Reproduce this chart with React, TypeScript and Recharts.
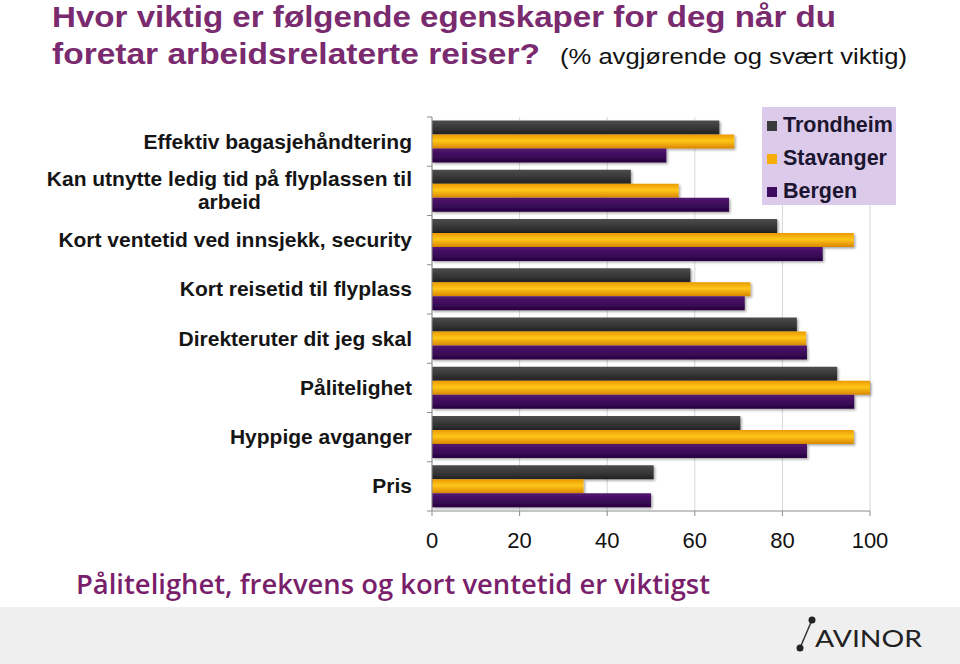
import React from "react";
import { BarChart, Bar, XAxis, YAxis, CartesianGrid } from "recharts";

const categories = [
  "Effektiv bagasjehåndtering",
  "Kan utnytte ledig tid på flyplassen til arbeid",
  "Kort ventetid ved innsjekk, security",
  "Kort reisetid til flyplass",
  "Direkteruter dit jeg skal",
  "Pålitelighet",
  "Hyppige avganger",
  "Pris",
];
const trondheim = [65.6, 45.4, 78.8, 59.0, 83.3, 92.5, 70.4, 50.6];
const stavanger = [69.0, 56.3, 96.3, 72.7, 85.4, 100, 96.3, 34.6];
const bergen = [53.5, 67.8, 89.2, 71.4, 85.6, 96.4, 85.6, 50.0];
const xTicks = [0, 20, 40, 60, 80, 100];
const seriesNames = ["Trondheim", "Stavanger", "Bergen"];

const titleLine1 = "Hvor viktig er følgende egenskaper for deg når du";
const titleLine2 = "foretar arbeidsrelaterte reiser?";
const titleNote = "(% avgjørende og svært viktig)";
const conclusion = "Pålitelighet, frekvens og kort ventetid er viktigst";
const logoText = "AVINOR";

const data = categories.map((name, i) => ({
  name,
  Trondheim: trondheim[i],
  Stavanger: stavanger[i],
  Bergen: bergen[i],
}));

const seriesStyle: Record<string, { id: string; stops: string[]; swatch: string }> = {
  Trondheim: { id: "gT", stops: ["#4d4d4d", "#3a3a3a", "#222222"], swatch: "#3a3a3a" },
  Stavanger: { id: "gS", stops: ["#eb9a00", "#ffc61a", "#d98600"], swatch: "#f7ad0a" },
  Bergen: { id: "gB", stops: ["#521770", "#3f0b5e", "#280340"], swatch: "#3f0b5e" },
};

const SANS = "'Liberation Sans', Arial, Helvetica, sans-serif";
const LABEL_SIZE = 21;
const LABEL_FONT = `bold ${LABEL_SIZE}px 'Liberation Sans', Arial, sans-serif`;

let ctx: CanvasRenderingContext2D | null = null;
function measure(text: string): number {
  if (!ctx) ctx = document.createElement("canvas").getContext("2d");
  if (!ctx) return text.length * 10;
  ctx.font = LABEL_FONT;
  return ctx.measureText(text).width;
}

function wrap(text: string, maxChars = 40): string[] {
  const words = text.split(" ");
  const lines: string[] = [];
  let cur = "";
  for (const w of words) {
    const next = cur ? cur + " " + w : w;
    if (next.length > maxChars && cur) {
      lines.push(cur);
      cur = w;
    } else cur = next;
  }
  if (cur) lines.push(cur);
  return lines;
}

const CHART_W = 960;
const CHART_H = 560;
const MARGIN = { top: 117, right: 90, bottom: 9, left: 12 };
const XAXIS_H = 40;
const Y_AXIS_W = 420;
const TICK_GAP = 20;
const plotH = CHART_H - MARGIN.top - MARGIN.bottom - XAXIS_H;
const halfBand = plotH / categories.length / 2;

function YTick(props: any) {
  const { x, y, payload, index } = props;
  const lines = wrap(String(payload.value));
  const lineH = 23;
  const axisX = x + TICK_GAP;
  const first = y - ((lines.length - 1) * lineH) / 2 + 7;
  const widest = Math.max(...lines.map(measure));
  const multi = lines.length > 1;
  return (
    <g>
      <line x1={axisX - 5} x2={axisX} y1={y - halfBand} y2={y - halfBand} stroke="#8c8c8c" />
      {index === categories.length - 1 && (
        <line x1={axisX - 5} x2={axisX} y1={y + halfBand} y2={y + halfBand} stroke="#8c8c8c" />
      )}
      <text
        fontFamily={SANS}
        fontWeight="bold"
        fontSize={LABEL_SIZE}
        fill="#151515"
        textAnchor={multi ? "middle" : "end"}
      >
        {lines.map((l, i) => (
          <tspan key={i} x={multi ? x - widest / 2 : x} y={first + i * lineH}>
            {l}
          </tspan>
        ))}
      </text>
    </g>
  );
}

function makeShape(name: string) {
  return (p: any) => {
    const { x, y, width, height } = p;
    if (width <= 0) return <g />;
    return (
      <rect
        x={x}
        y={y}
        width={width}
        height={height}
        fill={`url(#${seriesStyle[name].id})`}
        filter="url(#barShadow)"
      />
    );
  };
}

export default function App() {
  return (
    <div
      style={{
        position: "absolute",
        left: 0,
        top: 0,
        width: 960,
        height: 664,
        background: "#ffffff",
        overflow: "hidden",
      }}
    >
      <svg width={960} height={110} style={{ position: "absolute", left: 0, top: 0 }}>
        <text
          x={52}
          y={27}
          fontFamily={SANS}
          fontWeight="bold"
          fontSize={30}
          fill="#7a2a6e"
          textLength={784}
          lengthAdjust="spacingAndGlyphs"
        >
          {titleLine1}
        </text>
        <text
          x={52}
          y={64}
          fontFamily={SANS}
          fontWeight="bold"
          fontSize={30}
          fill="#7a2a6e"
          textLength={488}
          lengthAdjust="spacingAndGlyphs"
        >
          {titleLine2}
        </text>
        <text
          x={560}
          y={64}
          fontFamily={SANS}
          fontSize={22}
          fill="#111111"
          textLength={347}
          lengthAdjust="spacingAndGlyphs"
        >
          {titleNote}
        </text>
      </svg>

      <div style={{ position: "absolute", left: 0, top: 0 }}>
        <BarChart
          width={CHART_W}
          height={CHART_H}
          data={data}
          layout="vertical"
          margin={MARGIN}
          barCategoryGap={3.5}
          barGap={0}
        >
          <defs>
            {seriesNames.map((n) => (
              <linearGradient key={n} id={seriesStyle[n].id} x1="0" y1="0" x2="0" y2="1">
                <stop offset="0%" stopColor={seriesStyle[n].stops[0]} />
                <stop offset="45%" stopColor={seriesStyle[n].stops[1]} />
                <stop offset="100%" stopColor={seriesStyle[n].stops[2]} />
              </linearGradient>
            ))}
            <filter id="barShadow" x="-5%" y="-30%" width="115%" height="170%">
              <feDropShadow dx="1.5" dy="1.5" stdDeviation="1" floodColor="#000" floodOpacity="0.35" />
            </filter>
          </defs>
          <CartesianGrid horizontal={false} stroke="#d6d6d6" />
          <XAxis
            type="number"
            domain={[0, 100]}
            ticks={xTicks}
            height={XAXIS_H}
            tickSize={5}
            tickMargin={16}
            stroke="#8c8c8c"
            tick={{ fontSize: 22, fill: "#111111", fontFamily: SANS }}
            interval={0}
          />
          <YAxis
            type="category"
            dataKey="name"
            width={Y_AXIS_W}
            tickLine={false}
            tickSize={0}
            tickMargin={TICK_GAP}
            stroke="#8c8c8c"
            interval={0}
            tick={<YTick />}
          />
          {seriesNames.map((n) => (
            <Bar
              key={n}
              dataKey={n}
              isAnimationActive={false}
              fill={seriesStyle[n].swatch}
              shape={makeShape(n)}
            />
          ))}
        </BarChart>
      </div>

      <div
        style={{
          position: "absolute",
          left: 762,
          top: 107,
          width: 134,
          height: 98,
          background: "#dccaea",
          boxSizing: "border-box",
          paddingTop: 2,
          paddingLeft: 5,
        }}
      >
        {seriesNames.map((n) => (
          <div
            key={n}
            style={{
              display: "flex",
              alignItems: "center",
              height: 33,
              fontFamily: SANS,
              fontWeight: "bold",
              fontSize: 21.5,
              color: "#1b1530",
              lineHeight: "33px",
            }}
          >
            <span
              style={{
                display: "inline-block",
                width: 10,
                height: 10,
                background: seriesStyle[n].swatch,
                marginRight: 6,
                marginTop: 1,
              }}
            />
            {n}
          </div>
        ))}
      </div>

      <svg width={960} height={70} style={{ position: "absolute", left: 0, top: 560 }}>
        <text
          x={76}
          y={34}
          fontFamily="'Open Sans', 'Noto Sans', sans-serif"
          fontWeight={600}
          fontSize={27}
          fill="#7a1f6b"
          textLength={634}
          lengthAdjust="spacingAndGlyphs"
        >
          {conclusion}
        </text>
      </svg>

      <div
        style={{
          position: "absolute",
          left: 0,
          top: 607,
          width: 960,
          height: 57,
          background: "#efefef",
        }}
      >
        <svg width={960} height={57}>
          <line x1={800} y1={41} x2={812} y2={13} stroke="#333" strokeWidth={1.5} />
          <circle cx={812} cy={13} r={3.5} fill="#222" />
          <circle cx={800} cy={41} r={3.5} fill="#222" />
          <text
            x={815}
            y={40}
            fontFamily="Lato, 'Open Sans', sans-serif"
            fontSize={23}
            fill="#222222"
            textLength={107}
            lengthAdjust="spacingAndGlyphs"
          >
            {logoText}
          </text>
        </svg>
      </div>
    </div>
  );
}
